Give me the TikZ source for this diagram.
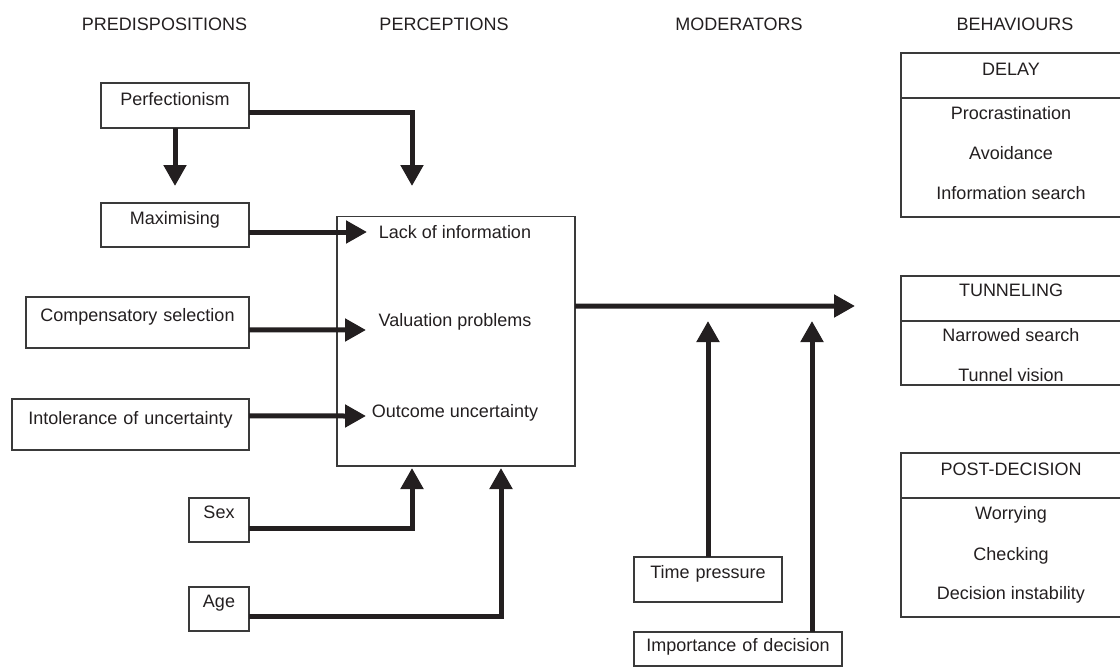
\documentclass[tikz,border=0pt]{standalone}
\usepackage{fontspec}
\setmainfont{Liberation Sans}
\usetikzlibrary{arrows.meta}
\definecolor{ink}{HTML}{231F20}
\definecolor{frame}{HTML}{3A3A3A}
\begin{document}
\begin{tikzpicture}[x=0.75pt,y=-0.75pt,
  font=\fontsize{13.5}{16}\selectfont, text=ink,
  box/.style={draw=frame, line width=0.9pt, inner sep=0pt, outer sep=0pt, anchor=north west, align=center},
  lbl/.style={anchor=base, inner sep=0pt},
  flow/.style={draw=ink, line width=3.75pt, -{Triangle[length=15.75pt,width=16.5pt]}},
]
\useasboundingbox (0,0) rectangle (1120,671);

% headers
\node[lbl] (h1) at (164.5,31) {PREDISPOSITIONS};
\node[lbl] (h2) at (444,31) {PERCEPTIONS};
\node[lbl] (h3) at (739,31) {MODERATORS};
\node[lbl] (h4) at (1015,31) {BEHAVIOURS};

% predisposition boxes
\node[box, text width=111pt, text height=16.5pt, text depth=17.25pt] (perf) at (101,83) {Perfectionism};
\node[box, text width=111pt, text height=15.75pt, text depth=17.25pt] (maxi) at (101,203) {Maximising};
\node[box, text width=167.25pt, text height=18.45pt, text depth=19.8pt] (comp) at (26,297) {Compensatory selection};
\node[box, text width=177.75pt, text height=18.75pt, text depth=19.5pt] (intol) at (12,399) {Intolerance of uncertainty};
\node[box, text width=45pt, text height=15.2pt, text depth=17.8pt] (sex) at (189,498) {Sex};
\node[box, text width=45pt, text height=15pt, text depth=18pt] (age) at (189,587) {Age};

% perceptions
\node[box, minimum width=178.5pt, minimum height=187pt] (perc) at (337,216.7) {};
\node[lbl] (lack) at (455,238) {Lack of information};
\node[lbl] (val) at (455,326.5) {Valuation problems};
\node[lbl] (outc) at (455,417) {Outcome uncertainty};

% moderators
\node[box, text width=111pt, text height=15.75pt, text depth=18pt] (time) at (634,557) {Time pressure};
\node[box, text width=156pt, text height=14.25pt, text depth=11.25pt] (imp) at (634,632) {Importance of decision};

% behaviours
\node[box, text width=165pt, text height=17pt, text depth=16.7pt] (delayh) at (901,53) {DELAY};
\node[box, minimum width=165pt, minimum height=89.25pt] (delayb) at (901,98) {};
\node[lbl] (d1) at (1011,119.3) {Procrastination};
\node[lbl] (d2) at (1011,159.3) {Avoidance};
\node[lbl] (d3) at (1011,199.3) {Information search};

\node[box, text width=165pt, text height=15.5pt, text depth=18.2pt] (tunh) at (901,276) {TUNNELING};
\node[box, minimum width=165pt, minimum height=48pt] (tunb) at (901,321) {};
\node[lbl] (t1) at (1011,341.7) {Narrowed search};
\node[lbl] (t2) at (1011,381) {Tunnel vision};

\node[box, text width=165pt, text height=16.5pt, text depth=17.25pt] (posth) at (901,453) {POST-DECISION};
\node[box, minimum width=165pt, minimum height=89.25pt] (postb) at (901,498) {};
\node[lbl] (p1) at (1011,519) {Worrying};
\node[lbl] (p2) at (1011,560) {Checking};
\node[lbl] (p3) at (1011,599) {Decision instability};

% arrow tips
\coordinate (tP1) at (175,186);
\coordinate (tP2) at (412,186);
\coordinate (tM) at (367,232);
\coordinate (tC) at (366,330);
\coordinate (tI) at (366,416);
\coordinate (tS) at (412,468);
\coordinate (tA) at (501,468);
\coordinate (tOut) at (855,306);
\coordinate (tT) at (708,321);
\coordinate (tImp) at (812,321);

% connectors
\draw[flow] (perf.south) -- (tP1);
\draw[flow] ([yshift=-4.875pt]perf.east) -| (tP2);
\draw[flow] ([yshift=-5.25pt]maxi.east) -- (tM);
\draw[flow] ([yshift=-5.6pt]comp.east) -- (tC);
\draw[flow] ([yshift=6.4pt]intol.east) -- (tI);
\draw[flow] ([yshift=-6pt]sex.east) -| (tS);
\draw[flow] ([yshift=-5.25pt]age.east) -| (tA);
\draw[flow] ([yshift=26.5pt]perc.east) -- (tOut);
\draw[flow] (time.north) -- (tT);
\draw[flow] ([xshift=55.5pt]imp.north) -- (tImp);
\end{tikzpicture}
\end{document}
